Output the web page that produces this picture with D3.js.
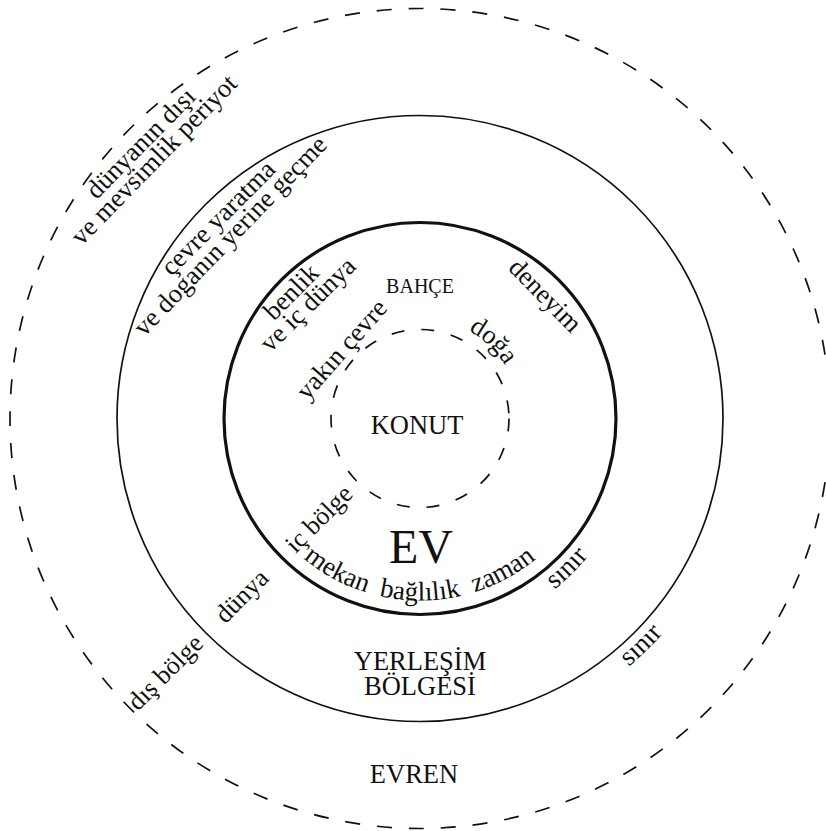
<!DOCTYPE html>
<html>
<head>
<meta charset="utf-8">
<script src="https://cdn.jsdelivr.net/npm/d3@7"></script>
<style>
  body { margin: 0; background: #fff; }
  text { font-family: "Liberation Serif", "Times New Roman", serif; fill: #111; }
</style>
</head>
<body>
<svg id="chart" width="826" height="831"></svg>
<script>
// ring boundaries, from the house outward
const ringNames = ["KONUT", "EV", "YERLEŞİM BÖLGESİ", "EVREN"];
const ringLevels = [1, 2, 3, 4];

// text laid on the tangent over the top, read clockwise (tops outward)
const topLabels = ["dünyanın dışı", "ve mevsimlik periyot", "çevre yaratma", "ve doganın yerine geçme",
  "benlik", "ve iç dünya", "yakın çevre", "doğa", "deneyim"];
const topLevels = [3.754, 3.557, 2.748, 2.551, 1.776, 1.584, 1.065, 1.107, 1.729];
const topAngles = [-45.4, -45.8, -45.2, -46.1, -45.5, -44.5, -48.6, 43.4, 45.5];
const topCurved = [false, false, false, false, false, false, false, true, false];

// text following a circle, read left to right under the bottom (tops inward)
const bottomLabels = ["mekan", "bağlılık", "zaman", "sınır", "sınır"];
const bottomLevels = [1.87, 1.87, 1.87, 2.2, 3.2];
const bottomAngles = [208.5, 180, 151.5, 135.5, 135.7];

// straight text along one radius
const radialLabels = ["iç bölge", "dünya", "dış bölge"];
const radialLevels = [1.5, 2.52, 3.53];
const radialAngle = 225;

// horizontal names
const centerLabels = ["BAHÇE", "KONUT", "EV", "YERLEŞİM", "BÖLGESİ", "EVREN"];
const centerLevels = [-1.17, 0.145, 1.35, 2.35, 2.58, 3.41];

const svg = d3.select("#chart");
const cx = 420, cy = 418.5;
const r = d3.scaleLinear().domain([1, 4]).range([89, 410]);
const rad = d3.scaleLinear().domain([0, 360]).range([0, 2 * Math.PI]);
const dy = d3.scaleLinear().domain([0, 1]).range([0, 107]);

// circles
svg.selectAll("circle.ring")
  .data(ringLevels)
  .join("circle")
  .attr("class", "ring")
  .attr("cx", cx)
  .attr("cy", cy)
  .attr("r", d => r(d))
  .attr("fill", "none")
  .attr("stroke", "#111")
  .attr("stroke-width", d => d == 2 ? 3.2 : 1.7)
  .attr("stroke-dasharray", d => d == 1 ? "13 17" : d == 4 ? "15 17" : null);

function labelPath(level, angle, clockwise, curved) {
  const p = d3.path();
  const d = r(level);
  const a = rad(angle) - Math.PI / 2;
  const s = rad(80);
  if (curved) {
    if (clockwise) p.arc(cx, cy, d, a - s, a + s, false);
    else p.arc(cx, cy, d, a + s, a - s, true);
  } else {
    const mx = cx + d * Math.cos(a), my = cy + d * Math.sin(a);
    const tx = -Math.sin(a), ty = Math.cos(a);
    p.moveTo(mx - 300 * tx, my - 300 * ty);
    p.lineTo(mx + 300 * tx, my + 300 * ty);
  }
  return p.toString();
}

const defs = svg.append("defs");

function placeOnPath(text, pathD, id, size) {
  defs.append("path").attr("id", id).attr("d", pathD);
  svg.append("text")
    .attr("font-size", size)
    .append("textPath")
    .attr("href", "#" + id)
    .attr("startOffset", "50%")
    .attr("text-anchor", "middle")
    .text(text);
}

topLabels.forEach((t, i) =>
  placeOnPath(t, labelPath(topLevels[i], topAngles[i], true, topCurved[i]), "top" + i, 26.5));
bottomLabels.forEach((t, i) =>
  placeOnPath(t, labelPath(bottomLevels[i], bottomAngles[i], false, true), "bot" + i, 27));

// radial labels
radialLabels.forEach((t, i) => {
  const a = rad(radialAngle);
  const x = cx + r(radialLevels[i]) * Math.sin(a);
  const y = cy - r(radialLevels[i]) * Math.cos(a);
  svg.append("text")
    .attr("transform", `translate(${x},${y}) rotate(-45)`)
    .attr("text-anchor", "middle")
    .attr("dy", "0.3em")
    .attr("font-size", 26)
    .text(t);
});

// horizontal labels
svg.selectAll("text.center")
  .data(centerLabels)
  .join("text")
  .attr("class", "center")
  .attr("x", (d, i) => i == 1 ? cx - 3 : i == 2 ? cx + 1 : i == 5 ? cx - 6 : cx)
  .attr("y", (d, i) => cy + dy(centerLevels[i]))
  .attr("text-anchor", "middle")
  .attr("font-size", (d, i) => i == 0 ? 20 : i == 2 ? 48 : 26.5)
  .text(d => d);
</script>
</body>
</html>
